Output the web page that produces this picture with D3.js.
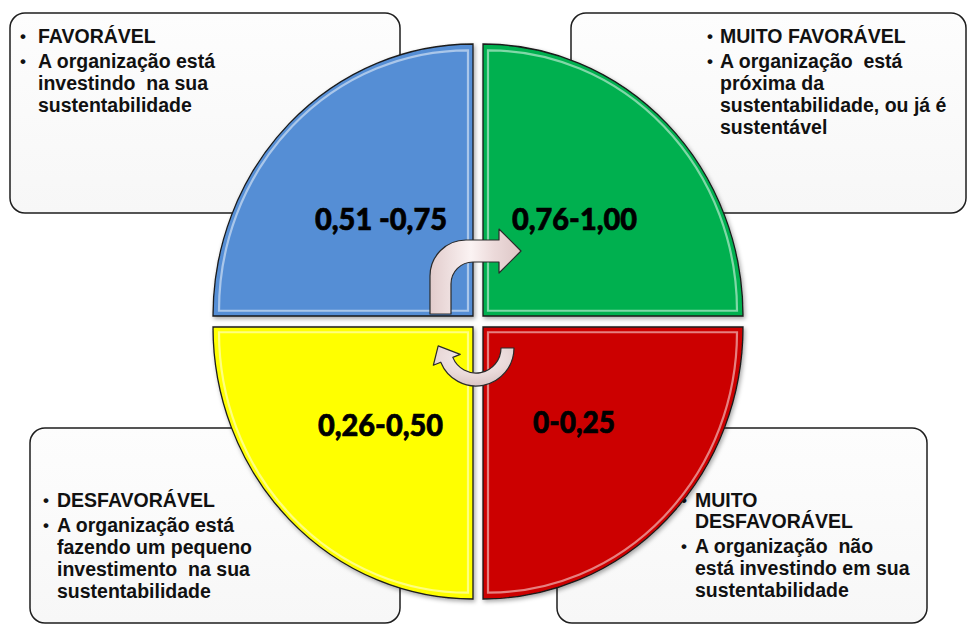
<!DOCTYPE html>
<html>
<head>
<meta charset="utf-8">
<script src="https://cdn.jsdelivr.net/npm/d3@7"></script>
<style>
  html, body { margin: 0; padding: 0; background: #ffffff; }
  svg { display: block; }
  .boxtext { font-family: "Liberation Sans", Arial, sans-serif; font-weight: bold; font-size: 19.5px; fill: #111; white-space: pre; }
  .qlabel { font-family: Lato, "Open Sans", sans-serif; font-weight: 900; font-size: 31px; fill: #000; stroke: #000; stroke-width: 0.7px; }
</style>
</head>
<body>
<script>
// ---------- DATA ----------
// quadrants in pie order (clockwise from 12 o'clock): top-right, bottom-right, bottom-left, top-left
const rangeLabels = ["0,76-1,00", "0-0,25", "0,26-0,50", "0,51 -0,75"];
const rangeLow    = [0.76, 0, 0.26, 0.51];
const rangeHigh   = [1.00, 0.25, 0.50, 0.75];
const quadrantShare = [1, 1, 1, 1];
const quadrantColors = ["#00b050", "#cc0000", "#ffff00", "#558ed5"];

const classTitles = [
  ["MUITO FAVORÁVEL"],
  ["MUITO", "DESFAVORÁVEL"],
  ["DESFAVORÁVEL"],
  ["FAVORÁVEL"]
];
const classDescriptions = [
  ["A organização  está", "próxima da", "sustentabilidade, ou já é", "sustentável"],
  ["A organização  não", "está investindo em sua", "sustentabilidade"],
  ["A organização está", "fazendo um pequeno", "investimento  na sua", "sustentabilidade"],
  ["A organização está", "investindo  na sua", "sustentabilidade"]
];

// ---------- LAYOUT ----------
const W = 967, H = 624;
const cx = 478, cy = 321.5, rx = 260, ry = 272, gapX = 5, gapY = 5.5;

const boxLayout = [
  { x: 571, y: 13,  w: 395, h: 200, bx: 707, tx: 720, y0: 43 },
  { x: 557, y: 428, w: 370, h: 195, bx: 681, tx: 695, y0: 507 },
  { x: 30,  y: 428, w: 370, h: 195, bx: 43,  tx: 57,  y0: 507 },
  { x: 10,  y: 13,  w: 390, h: 200, bx: 20,  tx: 38,  y0: 43 }
];
const labelLayout = [
  { x: 512, y: 230, w: 125 },
  { x: 533, y: 433, w: 82 },
  { x: 318, y: 436, w: 125 },
  { x: 315, y: 230, w: 132 }
];

const svg = d3.select("body").append("svg").attr("width", W).attr("height", H);
const defs = svg.append("defs");

const shadow = defs.append("filter").attr("id", "shadow")
  .attr("x", "-10%").attr("y", "-10%").attr("width", "120%").attr("height", "120%");
shadow.append("feDropShadow").attr("dx", 1.5).attr("dy", 2).attr("stdDeviation", 2)
  .attr("flood-color", "#000").attr("flood-opacity", 0.35);

const blur = defs.append("filter").attr("id", "soft");
blur.append("feGaussianBlur").attr("stdDeviation", 0.7);

const boxGrad = defs.append("linearGradient").attr("id", "boxGrad")
  .attr("x1", 0).attr("y1", 0).attr("x2", 0).attr("y2", 1);
boxGrad.append("stop").attr("offset", "0%").attr("stop-color", "#fdfdfd");
boxGrad.append("stop").attr("offset", "100%").attr("stop-color", "#f7f7f7");

const arrowGradV = defs.append("linearGradient").attr("id", "arrowGradV")
  .attr("x1", 0).attr("y1", 0).attr("x2", 1).attr("y2", 0);
[["0%", "#e2cccc"], ["45%", "#fbf3f3"], ["70%", "#ecdada"], ["100%", "#ddc6c6"]].forEach(s =>
  arrowGradV.append("stop").attr("offset", s[0]).attr("stop-color", s[1]));

const arrowGradC = defs.append("radialGradient").attr("id", "arrowGradC")
  .attr("cx", 0.5).attr("cy", 0.3).attr("r", 0.7);
[["0%", "#f6eeee"], ["60%", "#eadada"], ["100%", "#d9c4c4"]].forEach(s =>
  arrowGradC.append("stop").attr("offset", s[0]).attr("stop-color", s[1]));

// ---------- TEXT BOXES ----------
const boxes = svg.append("g").selectAll("g").data(d3.range(4)).join("g");
boxes.append("rect")
  .attr("x", i => boxLayout[i].x).attr("y", i => boxLayout[i].y)
  .attr("width", i => boxLayout[i].w).attr("height", i => boxLayout[i].h)
  .attr("rx", 15).attr("ry", 15)
  .attr("fill", "url(#boxGrad)").attr("stroke", "#1e1e1e").attr("stroke-width", 1.5);

boxes.each(function(i) {
  const g = d3.select(this);
  const L = boxLayout[i];
  let y = L.y0;
  const lines = [];
  classTitles[i].forEach((t, k) => { lines.push({ t, bullet: k === 0, y }); y += 21; });
  y += 4;
  classDescriptions[i].forEach((t, k) => { lines.push({ t, bullet: k === 0, y }); y += 22; });
  lines.forEach(l => {
    if (l.bullet) g.append("text").attr("class", "boxtext").attr("x", L.bx).attr("y", l.y - 1)
      .style("font-size", "17px").text("•");
    g.append("text").attr("class", "boxtext").attr("x", L.tx).attr("y", l.y).text(l.t);
  });
});

// ---------- QUADRANTS ----------
const pie = d3.pie().sort(null).value(d => d);
const arcs = pie(quadrantShare);
const arcGen = d3.arc().innerRadius(0).outerRadius(rx);
const hiGen = d3.arc().innerRadius(0).outerRadius(rx - 11);

const quads = svg.append("g").selectAll("g").data(arcs).join("g")
  .attr("transform", d => {
    const mid = (d.startAngle + d.endAngle) / 2;
    const dx = Math.sign(Math.sin(mid)) * gapX;
    const dy = -Math.sign(Math.cos(mid)) * gapY;
    return `translate(${cx + dx},${cy + dy}) scale(1,${ry / rx})`;
  });

quads.append("path")
  .attr("d", arcGen)
  .attr("fill", (d, i) => quadrantColors[i])
  .attr("stroke", "#1a1a1a").attr("stroke-width", 1.3)
  .attr("vector-effect", "non-scaling-stroke")
  .attr("filter", "url(#shadow)");

quads.append("path")
  .attr("d", hiGen)
  .attr("transform", d => {
    const mid = (d.startAngle + d.endAngle) / 2;
    return `translate(${Math.sign(Math.sin(mid)) * 5},${-Math.sign(Math.cos(mid)) * 5})`;
  })
  .attr("fill", "none")
  .attr("stroke", "#ffffff").attr("stroke-opacity", 0.5).attr("stroke-width", 2.2)
  .attr("vector-effect", "non-scaling-stroke")
  .attr("filter", "url(#soft)");

// ---------- RANGE LABELS ----------
svg.append("g").selectAll("text").data(rangeLabels).join("text")
  .attr("class", "qlabel")
  .attr("x", (d, i) => labelLayout[i].x)
  .attr("y", (d, i) => labelLayout[i].y)
  .attr("textLength", (d, i) => labelLayout[i].w)
  .attr("lengthAdjust", "spacingAndGlyphs")
  .text(d => d);

// ---------- ARROWS ----------
const bp = d3.path();
bp.moveTo(430, 314);
bp.lineTo(430, 276);
bp.arcTo(430, 240, 466, 240, 36);
bp.lineTo(499, 240);
bp.lineTo(499, 229);
bp.lineTo(521, 251);
bp.lineTo(499, 273);
bp.lineTo(499, 262);
bp.lineTo(473, 262);
bp.arcTo(451, 262, 451, 284, 22);
bp.lineTo(451, 314);
bp.closePath();
svg.append("path").attr("d", bp.toString())
  .attr("fill", "url(#arrowGradV)").attr("stroke", "#2a2a2a").attr("stroke-width", 1.2)
  .attr("stroke-linejoin", "round");

const ccx = 476, ccy = 348, ro = 38, ri = 25;
const te = 158 * Math.PI / 180;
const rm = (ro + ri) / 2;
const cp = d3.path();
cp.moveTo(ccx + ro, ccy);
cp.arc(ccx, ccy, ro, 0, te, false);
cp.lineTo(ccx + (ro + 8) * Math.cos(te), ccy + (ro + 8) * Math.sin(te));
const tx = ccx + rm * Math.cos(te) - 15 * Math.sin(te) - 3;
const ty = ccy + rm * Math.sin(te) + 15 * Math.cos(te);
cp.lineTo(tx, ty);
cp.lineTo(ccx + (ri - 8) * Math.cos(te), ccy + (ri - 8) * Math.sin(te));
cp.lineTo(ccx + ri * Math.cos(te), ccy + ri * Math.sin(te));
cp.arc(ccx, ccy, ri, te, 0, true);
cp.closePath();
svg.append("path").attr("d", cp.toString())
  .attr("fill", "url(#arrowGradC)").attr("stroke", "#2a2a2a").attr("stroke-width", 1.2)
  .attr("stroke-linejoin", "round");
</script>
</body>
</html>
